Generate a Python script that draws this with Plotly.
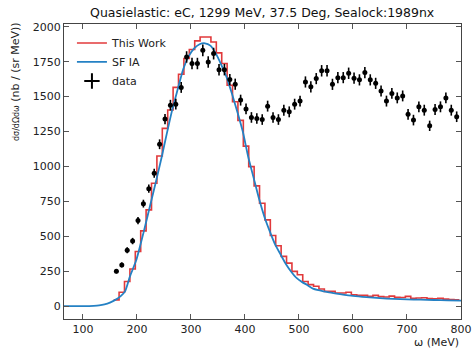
import plotly.graph_objects as go

# ---------------- data ----------------
data_omega = [162, 172, 182, 192, 202, 212, 222, 232, 242, 252, 262, 272, 282, 292, 302, 312,
              322, 332, 342, 352, 362, 372, 382, 392, 402, 412, 422, 432, 442, 452, 462, 472,
              482, 492, 502, 512, 522, 532, 542, 552, 562, 572, 582, 592, 602, 612, 622, 632,
              642, 652, 662, 672, 682, 692, 702, 712, 722, 732, 742, 752, 762, 772, 782, 792]
data_xs = [250, 295, 400, 466, 613, 734, 841, 951, 1159, 1339, 1439, 1446, 1566, 1784, 1737, 1737,
           1832, 1748, 1808, 1693, 1693, 1622, 1589, 1475, 1412, 1351, 1343, 1336, 1432, 1351, 1336, 1403,
           1391, 1446, 1468, 1605, 1570, 1629, 1685, 1685, 1588, 1636, 1636, 1667, 1632, 1620, 1672, 1620,
           1595, 1540, 1468, 1523, 1491, 1505, 1373, 1332, 1427, 1403, 1291, 1408, 1427, 1491, 1403, 1356]
data_err = [16, 18, 21, 23, 26, 28, 30, 32, 35, 37, 38, 38, 39, 41, 41, 41,
            42, 41, 42, 41, 41, 40, 40, 39, 39, 38, 38, 38, 39, 38, 38, 39,
            39, 39, 39, 40, 40, 40, 41, 41, 40, 40, 40, 41, 40, 40, 41, 40,
            40, 39, 39, 39, 39, 39, 38, 38, 39, 39, 37, 39, 39, 39, 39, 38]
data_omega_err = [3] * len(data_omega)

# "This Work" histogram (bin centres, 10 MeV bins)
hist_omega = [162, 172, 182, 192, 202, 212, 222, 232, 242, 252, 262, 272, 282, 292, 302, 312,
              322, 332, 342, 352, 362, 372, 382, 392, 402, 412, 422, 432, 442, 452, 462, 472,
              482, 492, 502, 512, 522, 532, 542, 552, 562, 572, 582, 592, 602, 612, 622, 632,
              642, 652, 662, 672, 682, 692, 702, 712, 722, 732, 742, 752, 762, 772, 782, 792]
hist_xs = [45, 99, 177, 266, 391, 539, 689, 880, 1075, 1273, 1404, 1566, 1660, 1773, 1837, 1899,
           1927, 1927, 1891, 1813, 1737, 1582, 1463, 1330, 1146, 999, 861, 737, 618, 506, 432, 356,
           308, 249, 225, 177, 154, 142, 123, 106, 106, 94, 94, 99, 82, 78, 77, 70,
           77, 68, 66, 72, 63, 62, 70, 56, 58, 60, 54, 53, 56, 50, 48, 46]
bin_width = 10

# "SF IA" curve
sf_omega = [65, 100, 120, 130, 140, 150, 160, 170, 178, 187, 199, 212, 224, 236, 246, 255, 265,
            275, 286, 296, 306, 316, 326, 336, 346, 356, 366, 376, 386, 396, 406, 416, 426, 436,
            446, 456, 466, 476, 486, 496, 506, 516, 526, 536, 546, 556, 576, 600, 625, 650, 675,
            700, 725, 750, 775, 800]
sf_xs = [0, 0, 2, 5, 12, 25, 45, 72, 106, 212, 332, 523, 713, 904, 1070, 1230, 1400,
         1545, 1700, 1790, 1845, 1875, 1882, 1865, 1810, 1730, 1640, 1520, 1390, 1250, 1070, 920, 770, 640,
         535, 440, 370, 300, 245, 200, 172, 150, 125, 114, 106, 98, 86, 73, 64, 57, 52,
         48, 46, 44, 41, 39]

title = "Quasielastic: eC, 1299 MeV, 37.5 Deg, Sealock:1989nx"
x_ticks = [100, 200, 300, 400, 500, 600, 700, 800]
y_ticks = [0, 250, 500, 750, 1000, 1250, 1500, 1750, 2000]

# step edges derived from bin centres
edges = [c - bin_width / 2 for c in hist_omega] + [hist_omega[-1] + bin_width / 2]
step_y = hist_xs + [hist_xs[-1]]

FONT = "DejaVu Sans"
fig = go.Figure()

fig.add_trace(go.Scatter(
    x=edges, y=step_y, mode="lines", line=dict(shape="hv", color="rgba(222,35,38,0.9)", width=1.6),
    name="This Work"))
fig.add_trace(go.Scatter(
    x=sf_omega, y=sf_xs, mode="lines", line=dict(shape="spline", smoothing=0.6, color="#2481c4", width=1.8),
    name="SF IA"))
fig.add_trace(go.Scatter(
    x=data_omega, y=data_xs, mode="markers", showlegend=False, name="data",
    marker=dict(color="black", size=5),
    error_y=dict(type="data", array=data_err, color="black", thickness=1.6, width=0),
    error_x=dict(type="data", array=data_omega_err, color="black", thickness=1.6, width=0)))
# legend entry for the data (cross-shaped like an error-bar marker)
fig.add_trace(go.Scatter(
    x=[None], y=[None], mode="markers", name="data",
    marker=dict(symbol="cross-thin", size=11, color="black", line=dict(color="black", width=2))))

axis_common = dict(
    showline=True, linecolor="#444", linewidth=1.2, mirror="ticks",
    ticks="inside", ticklen=5, tickwidth=1, tickcolor="#555",
    showgrid=False, zeroline=False, automargin=False,
    tickfont=dict(family=FONT, size=11, color="#222"),
)
fig.update_xaxes(range=[65, 800], tickvals=x_ticks, **axis_common)
fig.update_yaxes(range=[-92, 2020], tickvals=y_ticks, **axis_common)

fig.update_layout(
    width=472, height=349,
    margin=dict(l=64, r=11, t=24, b=30, autoexpand=False),
    paper_bgcolor="white", plot_bgcolor="white",
    title=dict(text=title, x=0.5555, xanchor="center", y=0.963, yanchor="middle",
               font=dict(family=FONT, size=12.5, color="#111")),
    legend=dict(x=0.02, y=0.985, xanchor="left", yanchor="top", bgcolor="rgba(0,0,0,0)",
                font=dict(family=FONT, size=11, color="#222"), itemwidth=30, tracegroupgap=0),
    annotations=[
        dict(text="ω (MeV)", xref="paper", yref="paper", x=1, y=0, xanchor="right", yanchor="middle",
             yshift=-23, showarrow=False, font=dict(family=FONT, size=11, color="#222")),
        dict(text="<span style='font-size:8px'>dσ/dΩdω</span> (nb / (sr MeV))", xref="paper", yref="paper",
             x=0, y=1, xanchor="right", yanchor="top", xshift=-40, yshift=4, textangle=-90,
             showarrow=False, font=dict(family=FONT, size=11, color="#222")),
    ],
)

fig.write_html("out.html")
